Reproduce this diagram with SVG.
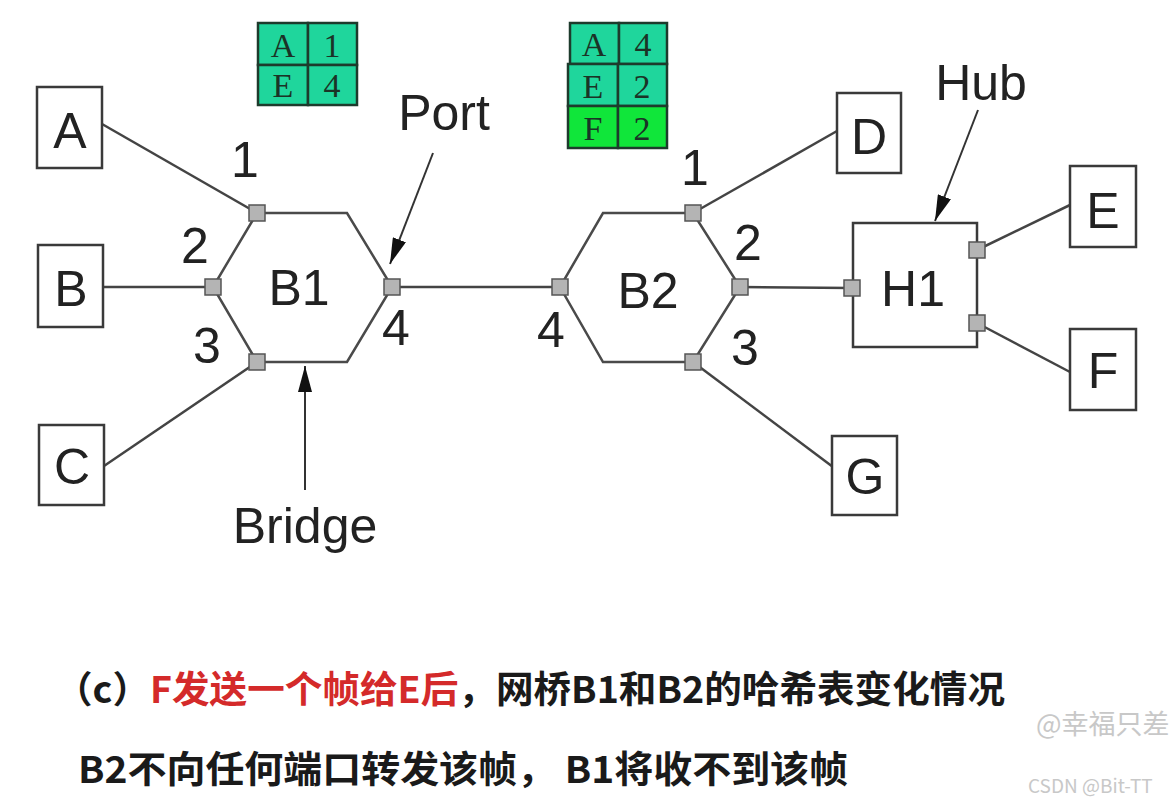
<svg xmlns="http://www.w3.org/2000/svg" width="1171" height="806" viewBox="0 0 1171 806">
<style>
  .box { fill: #ffffff; stroke: #3a3a3a; stroke-width: 2.5; }
  .hex { fill: #ffffff; stroke: #4a4a4a; stroke-width: 2.5; }
  .port { fill: #b4b4b4; stroke: #555555; stroke-width: 1.5; }
  .link { stroke: #444444; stroke-width: 2.5; fill: none; }
  .ptr { stroke: #333333; stroke-width: 2; fill: none; marker-end: url(#arrow); }
  .lbl { font-family: "Liberation Sans", Arial, sans-serif; font-size: 50px; fill: #222222; text-anchor: middle; }
  .cell { stroke: #1d3b2c; stroke-width: 2.5; }
  .t1 { fill: #1fd69c; }
  .t2 { fill: #10e63a; }
  .ct { font-family: "Liberation Serif", "Times New Roman", serif; font-size: 34px; fill: #1b3326; text-anchor: middle; }
  .cn { font-family: "Noto Sans CJK SC", "Liberation Sans", sans-serif; font-size: 37px; font-weight: 700; fill: #1a1a1a; }
  .red { fill: #d42a2a; }
  .wm { font-family: "Noto Sans CJK SC", "Liberation Sans", sans-serif; fill: #c8c8c8; }
</style>
<defs>
  <marker id="arrow" viewBox="0 0 26 14" refX="26" refY="7" markerWidth="26" markerHeight="14" markerUnits="userSpaceOnUse" orient="auto">
    <path d="M0,0 L26,7 L0,14 Z" fill="#111111"/>
  </marker>
</defs>
<rect x="0" y="0" width="1171" height="806" fill="#ffffff"/>

<g id="connectors">
  <line class="link" x1="102" y1="124" x2="257" y2="213"/>
  <line class="link" x1="103" y1="287" x2="213" y2="287"/>
  <line class="link" x1="104" y1="466" x2="257" y2="362"/>
  <line class="link" x1="392" y1="287" x2="560" y2="287"/>
  <line class="link" x1="693" y1="213" x2="837" y2="131"/>
  <line class="link" x1="693" y1="362" x2="833" y2="467"/>
  <line class="link" x1="740" y1="287" x2="852" y2="288"/>
  <line class="link" x1="977" y1="250" x2="1070" y2="205"/>
  <line class="link" x1="977" y1="323" x2="1070" y2="372"/>
  <line class="ptr" x1="433" y1="153" x2="390" y2="264"/>
  <line class="ptr" x1="978" y1="110" x2="935" y2="221"/>
  <line class="ptr" x1="305" y1="490" x2="305" y2="366"/>
</g>

<g id="A"><rect class="box" x="37" y="87" width="65" height="81"/><text class="lbl" x="70" y="148">A</text></g>
<g id="B"><rect class="box" x="38" y="245" width="65" height="82"/><text class="lbl" x="71" y="306">B</text></g>
<g id="C"><rect class="box" x="39" y="425" width="65" height="80"/><text class="lbl" x="72" y="484">C</text></g>
<g id="D"><rect class="box" x="837" y="93" width="64" height="80"/><text class="lbl" x="869" y="154">D</text></g>
<g id="G"><rect class="box" x="832" y="436" width="65" height="79"/><text class="lbl" x="865" y="494">G</text></g>
<g id="E"><rect class="box" x="1070" y="166" width="66" height="81"/><text class="lbl" x="1103" y="228">E</text></g>
<g id="F"><rect class="box" x="1070" y="329" width="66" height="81"/><text class="lbl" x="1103" y="388">F</text></g>

<g id="B1">
  <polygon class="hex" points="257,213 347,213 392,287 347,362 257,362 213,287"/>
  <rect class="port" x="249" y="205" width="16" height="16"/>
  <rect class="port" x="205" y="279" width="16" height="16"/>
  <rect class="port" x="249" y="354" width="16" height="16"/>
  <rect class="port" x="384" y="279" width="16" height="16"/>
  <text class="lbl" x="299" y="305">B1</text>
  <text class="lbl" x="245" y="177">1</text>
  <text class="lbl" x="195" y="263">2</text>
  <text class="lbl" x="207" y="363">3</text>
  <text class="lbl" x="396" y="345">4</text>
</g>

<g id="B2">
  <polygon class="hex" points="603,213 693,213 740,287 693,362 603,362 560,287"/>
  <rect class="port" x="685" y="205" width="16" height="16"/>
  <rect class="port" x="732" y="279" width="16" height="16"/>
  <rect class="port" x="685" y="354" width="16" height="16"/>
  <rect class="port" x="552" y="279" width="16" height="16"/>
  <text class="lbl" x="648" y="308">B2</text>
  <text class="lbl" x="695" y="185">1</text>
  <text class="lbl" x="748" y="260">2</text>
  <text class="lbl" x="745" y="365">3</text>
  <text class="lbl" x="551" y="347">4</text>
</g>

<g id="H1">
  <rect class="box" x="853" y="223" width="124" height="124"/>
  <rect class="port" x="844" y="280" width="16" height="16"/>
  <rect class="port" x="969" y="242" width="16" height="16"/>
  <rect class="port" x="969" y="315" width="16" height="16"/>
  <text class="lbl" x="913" y="306">H1</text>
</g>

<g id="label-port"><text class="lbl" x="444" y="130">Port</text></g>
<g id="label-hub"><text class="lbl" x="981" y="100">Hub</text></g>
<g id="label-bridge"><text class="lbl" x="305" y="543">Bridge</text></g>

<g id="table-B1">
  <rect class="cell t1" x="258" y="23" width="50" height="42"/>
  <rect class="cell t1" x="308" y="23" width="49" height="42"/>
  <rect class="cell t1" x="258" y="65" width="50" height="40"/>
  <rect class="cell t1" x="308" y="65" width="49" height="40"/>
  <text class="ct" x="283" y="57">A</text>
  <text class="ct" x="332" y="57">1</text>
  <text class="ct" x="283" y="97">E</text>
  <text class="ct" x="332" y="97">4</text>
</g>

<g id="table-B2">
  <rect class="cell t1" x="570" y="23" width="49" height="41"/>
  <rect class="cell t1" x="619" y="23" width="48" height="41"/>
  <rect class="cell t1" x="568" y="64" width="50" height="42"/>
  <rect class="cell t1" x="618" y="64" width="49" height="42"/>
  <rect class="cell t2" x="568" y="106" width="50" height="42"/>
  <rect class="cell t2" x="618" y="106" width="49" height="42"/>
  <text class="ct" x="594" y="56">A</text>
  <text class="ct" x="643" y="56">4</text>
  <text class="ct" x="593" y="98">E</text>
  <text class="ct" x="642" y="98">2</text>
  <text class="ct" x="593" y="140">F</text>
  <text class="ct" x="642" y="140">2</text>
</g>

<g id="caption">
  <text class="cn" x="55" y="703" textLength="950" lengthAdjust="spacingAndGlyphs">（c）<tspan class="red">F发送一个帧给E后</tspan>，网桥B1和B2的哈希表变化情况</text>
  <text class="cn" x="78" y="783" textLength="770" lengthAdjust="spacingAndGlyphs">B2不向任何端口转发该帧， B1将收不到该帧</text>
</g>

<g id="watermark">
  <text class="wm" x="1036" y="734" font-size="27">@幸福只差</text>
  <text class="wm" x="1028" y="793" font-size="19" fill="#bdbdbd">CSDN @Bit-TT</text>
</g>
</svg>
